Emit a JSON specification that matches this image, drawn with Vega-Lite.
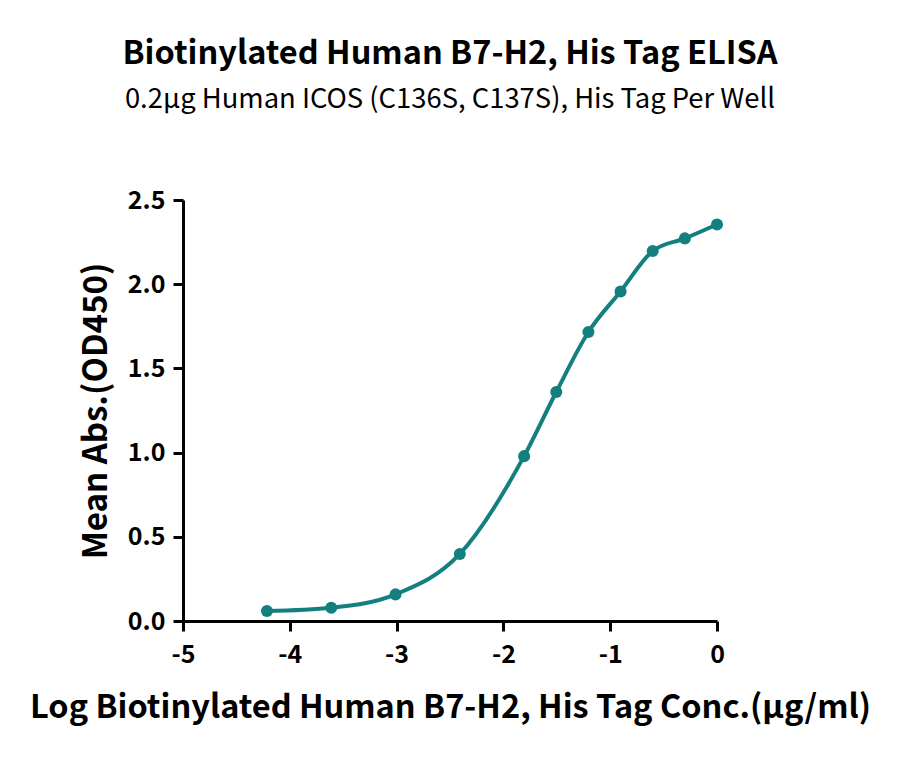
{
  "$schema": "https://vega.github.io/schema/vega-lite/v6.json",
  "autosize": "none",
  "width": 534,
  "height": 421,
  "padding": {"left": 183, "top": 200, "right": 183, "bottom": 139},
  "background": "white",
  "config": {
    "font": "Noto Sans CJK SC",
    "view": {"stroke": null}
  },
  "title": {
    "text": "Biotinylated Human B7-H2, His Tag ELISA",
    "subtitle": "0.2μg Human ICOS (C136S, C137S), His Tag Per Well",
    "anchor": "middle",
    "frame": "group",
    "font": "Noto Sans CJK SC",
    "fontSize": 32.5,
    "fontWeight": "bold",
    "color": "black",
    "subtitleFont": "Noto Sans CJK SC",
    "subtitleFontSize": 27.4,
    "subtitleColor": "black",
    "subtitlePadding": 15,
    "offset": 75
  },
  "data": {
    "values": [
      {"logconc": -4.214, "od": 0.059},
      {"logconc": -3.612, "od": 0.079},
      {"logconc": -3.010, "od": 0.158},
      {"logconc": -2.408, "od": 0.398},
      {"logconc": -1.806, "od": 0.979},
      {"logconc": -1.505, "od": 1.360},
      {"logconc": -1.204, "od": 1.716},
      {"logconc": -0.903, "od": 1.957},
      {"logconc": -0.602, "od": 2.197},
      {"logconc": -0.301, "od": 2.272},
      {"logconc": 0.0, "od": 2.355}
    ]
  },
  "encoding": {
    "x": {
      "field": "logconc",
      "type": "quantitative",
      "scale": {"domain": [-5, 0], "nice": false, "zero": false},
      "axis": {
        "title": "Log Biotinylated Human B7-H2, His Tag Conc.(μg/ml)",
        "values": [-5, -4, -3, -2, -1, 0],
        "labelExpr": "datum.value < 0 ? '-' + format(-datum.value, 'd') : format(datum.value, 'd')",
        "labelFlush": false,
        "grid": false,
        "domainColor": "black",
        "domainWidth": 3,
        "tickColor": "black",
        "tickWidth": 3,
        "tickSize": 10,
        "labelFont": "Noto Sans CJK SC",
        "labelFontSize": 25,
        "labelFontWeight": "bold",
        "labelColor": "black",
        "labelPadding": 11,
        "titleFont": "Noto Sans CJK SC",
        "titleFontSize": 32.5,
        "titleFontWeight": "bold",
        "titleColor": "black",
        "titlePadding": 24
      }
    },
    "y": {
      "field": "od",
      "type": "quantitative",
      "scale": {"domain": [0, 2.5], "nice": false},
      "axis": {
        "title": "Mean Abs.(OD450)",
        "values": [0, 0.5, 1, 1.5, 2, 2.5],
        "format": ".1f",
        "labelFlush": false,
        "grid": false,
        "domainColor": "black",
        "domainWidth": 3,
        "tickColor": "black",
        "tickWidth": 3,
        "tickSize": 10,
        "labelFont": "Noto Sans CJK SC",
        "labelFontSize": 25,
        "labelFontWeight": "bold",
        "labelColor": "black",
        "labelPadding": 8,
        "titleFont": "Noto Sans CJK SC",
        "titleFontSize": 33,
        "titleFontWeight": "bold",
        "titleColor": "black",
        "titlePadding": 14
      }
    }
  },
  "layer": [
    {
      "mark": {"type": "line", "interpolate": "monotone", "color": "#13807F", "strokeWidth": 4}
    },
    {
      "mark": {"type": "point", "filled": true, "opacity": 1, "color": "#13807F", "size": 145}
    }
  ]
}
